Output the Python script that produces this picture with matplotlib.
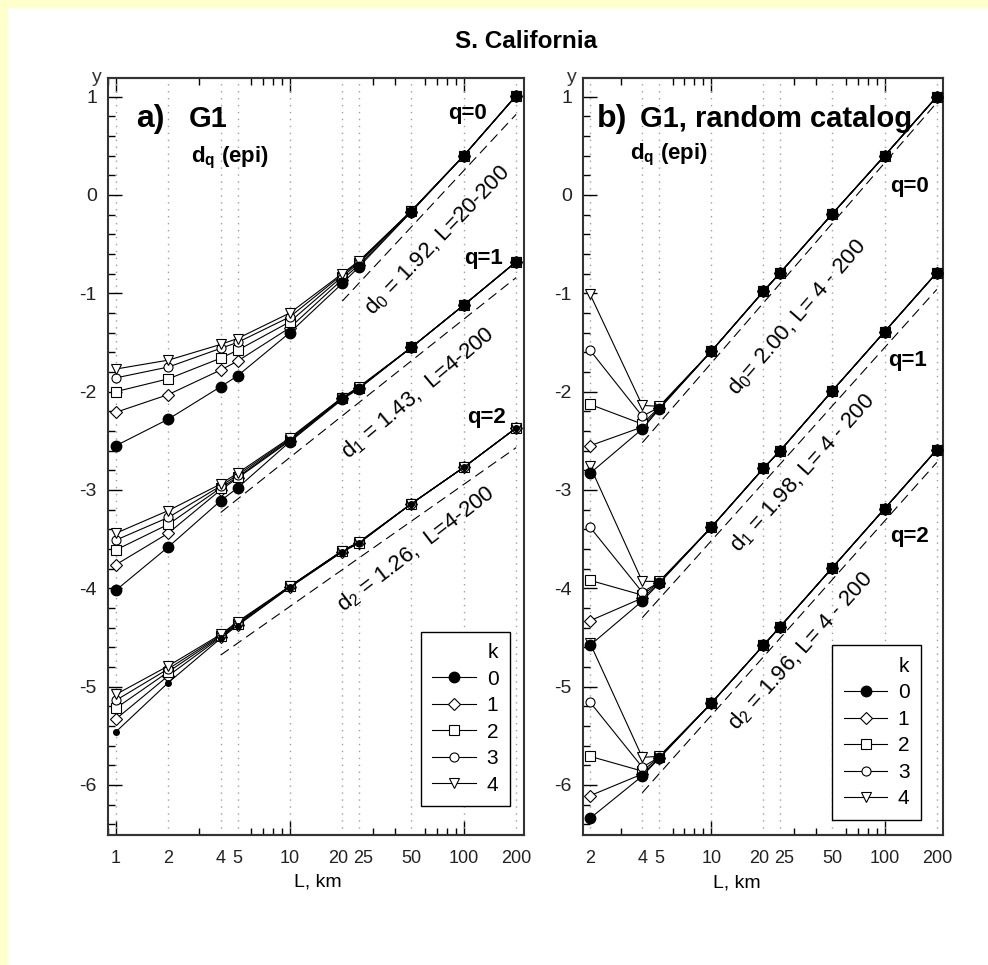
import numpy as np
import matplotlib
matplotlib.use('Agg')
import matplotlib.pyplot as plt
import matplotlib.transforms as mtransforms
from matplotlib.lines import Line2D
from matplotlib.patches import Rectangle
from matplotlib.ticker import FixedLocator, LogLocator, MultipleLocator, NullFormatter

plt.rcParams['font.family'] = ['Liberation Sans', 'DejaVu Sans']
plt.rcParams['axes.unicode_minus'] = False
plt.rcParams['mathtext.fontset'] = 'custom'
plt.rcParams['mathtext.rm'] = 'Liberation Sans'
plt.rcParams['mathtext.bf'] = 'Liberation Sans:bold'
plt.rcParams['mathtext.default'] = 'regular'

##################################################
#############  DATA ##########
##################################################

# panel a) G1
xa = [1, 2, 4, 5, 10, 20, 25, 50, 100, 200]
a_q0 = [[-2.55, -2.28, -1.95, -1.84, -1.40, -0.90, -0.73, -0.17, 0.40, 1.01],
        [-2.21, -2.03, -1.78, -1.69, -1.35, -0.86, -0.71, -0.17, 0.40, 1.01],
        [-2.00, -1.87, -1.66, -1.58, -1.29, -0.83, -0.69, -0.16, 0.40, 1.01],
        [-1.86, -1.75, -1.56, -1.50, -1.24, -0.81, -0.68, -0.16, 0.40, 1.01],
        [-1.77, -1.68, -1.52, -1.46, -1.20, -0.80, -0.67, -0.16, 0.40, 1.01]]
a_q1 = [[-4.02, -3.58, -3.11, -2.98, -2.51, -2.08, -1.97, -1.55, -1.12, -0.68],
        [-3.76, -3.44, -3.00, -2.88, -2.50, -2.07, -1.96, -1.55, -1.12, -0.68],
        [-3.61, -3.35, -2.98, -2.87, -2.49, -2.07, -1.96, -1.55, -1.12, -0.68],
        [-3.51, -3.28, -2.96, -2.85, -2.48, -2.06, -1.96, -1.55, -1.12, -0.68],
        [-3.44, -3.21, -2.94, -2.83, -2.47, -2.06, -1.95, -1.55, -1.12, -0.68]]
a_q2 = [[-5.46, -4.96, -4.51, -4.38, -3.99, -3.63, -3.54, -3.14, -2.77, -2.37],
        [-5.33, -4.89, -4.50, -4.37, -3.99, -3.63, -3.54, -3.14, -2.77, -2.37],
        [-5.22, -4.85, -4.49, -4.36, -3.98, -3.62, -3.54, -3.14, -2.77, -2.37],
        [-5.14, -4.82, -4.48, -4.35, -3.98, -3.62, -3.53, -3.14, -2.77, -2.37],
        [-5.08, -4.79, -4.47, -4.34, -3.98, -3.62, -3.53, -3.14, -2.77, -2.37]]
fit_a_x = [[20, 200], [4, 200], [4, 200]]
fit_a_y = [[-1.08, 0.82], [-3.23, -0.84], [-4.68, -2.57]]
fit_a_txt = ['d$_0$ = 1.92, L=20-200', 'd$_1$ = 1.43,  L=4-200', 'd$_2$ = 1.26,  L=4-200']

# panel b) G1, random catalog
xb = [2, 4, 5, 10, 20, 25, 50, 100, 200]
b_q0 = [[-2.83, -2.38, -2.18, -1.59, -0.98, -0.79, -0.19, 0.40, 1.00],
        [-2.55, -2.36, -2.17, -1.59, -0.98, -0.79, -0.19, 0.40, 1.00],
        [-2.13, -2.33, -2.16, -1.59, -0.98, -0.79, -0.19, 0.40, 1.00],
        [-1.58, -2.25, -2.16, -1.59, -0.98, -0.79, -0.19, 0.40, 1.00],
        [-1.01, -2.14, -2.15, -1.59, -0.98, -0.79, -0.19, 0.40, 1.00]]
b_q1 = [[-4.58, -4.13, -3.95, -3.38, -2.78, -2.60, -1.99, -1.39, -0.79],
        [-4.33, -4.10, -3.95, -3.38, -2.78, -2.60, -1.99, -1.39, -0.79],
        [-3.92, -4.07, -3.94, -3.38, -2.78, -2.60, -1.99, -1.39, -0.79],
        [-3.38, -4.04, -3.94, -3.38, -2.78, -2.60, -1.99, -1.39, -0.79],
        [-2.76, -3.93, -3.93, -3.38, -2.78, -2.60, -1.99, -1.39, -0.79]]
b_q2 = [[-6.34, -5.91, -5.73, -5.17, -4.58, -4.39, -3.79, -3.19, -2.59],
        [-6.11, -5.89, -5.73, -5.17, -4.58, -4.39, -3.79, -3.19, -2.59],
        [-5.71, -5.86, -5.72, -5.17, -4.58, -4.39, -3.79, -3.19, -2.59],
        [-5.16, -5.82, -5.72, -5.17, -4.58, -4.39, -3.79, -3.19, -2.59],
        [-4.56, -5.72, -5.71, -5.17, -4.58, -4.39, -3.79, -3.19, -2.59]]
fit_b_x = [[4, 200], [4, 200], [4, 200]]
fit_b_y = [[-2.52, 0.94], [-4.30, -0.96], [-6.08, -2.72]]
fit_b_txt = ['d$_0$= 2.00, L= 4 - 200', 'd$_1$ = 1.98, L= 4 - 200', 'd$_2$ = 1.96, L= 4 - 200']

k_labels = ['0', '1', '2', '3', '4']
xlabels_a = [1, 2, 4, 5, 10, 20, 25, 50, 100, 200]
xlabels_b = [2, 4, 5, 10, 20, 25, 50, 100, 200]

# marker styles per k
MK = [dict(marker='o', ms=7.5, mfc='black', mec='black'),
      dict(marker='D', ms=6.5, mfc='white', mec='black', mew=0.8),
      dict(marker='s', ms=6.5, mfc='white', mec='black', mew=0.8),
      dict(marker='o', ms=6.5, mfc='white', mec='black', mew=0.8),
      dict(marker='v', ms=7.5, mfc='white', mec='black', mew=0.8)]

W, H = 988, 965
fig = plt.figure(figsize=(W / 100, H / 100), dpi=100)
fig.patch.set_facecolor('#FFFFCC')
fig.add_artist(Rectangle((8 / W, 0), 1, 1 - 8 / H, transform=fig.transFigure,
                         facecolor='white', edgecolor='none', zorder=-10))

ax1 = fig.add_axes([108 / W, 1 - 835 / H, 416 / W, 757 / H])
ax2 = fig.add_axes([583 / W, 1 - 835 / H, 360 / W, 757 / H])


def style_axes(ax, xlim, xlab):
    ax.set_xscale('log')
    ax.set_xlim(*xlim)
    ax.set_ylim(-6.51, 1.19)
    ax.xaxis.set_major_locator(FixedLocator(xlab))
    ax.set_xticklabels([str(v) for v in xlab])
    ax.xaxis.set_minor_locator(LogLocator(base=10, subs=np.arange(1, 10)))
    ax.xaxis.set_minor_formatter(NullFormatter())
    ax.tick_params(axis='x', which='major', length=0, pad=11, labelsize=13,
                   labelcolor='#222222', top=True)
    ax.tick_params(axis='x', which='minor', direction='in', length=5, width=1,
                   top=True, bottom=True)
    ax.yaxis.set_major_locator(MultipleLocator(1))
    ax.yaxis.set_minor_locator(MultipleLocator(0.2))
    ax.tick_params(axis='y', which='major', direction='in', length=10, width=1,
                   pad=8, labelsize=14, labelcolor='#222222')
    ax.tick_params(axis='y', which='minor', direction='in', length=5, width=1)
    ax.grid(True, axis='x', which='major', color='#9a9ab8',
            linestyle=(0, (1, 4)), lw=1)
    for s in ax.spines.values():
        s.set_linewidth(1.5)
        s.set_color('#333333')
    # nudge the crowded 20 / 25 labels apart
    for lab, v in zip(ax.get_xticklabels(), xlab):
        if v in (20, 25):
            dx = -4 if v == 20 else 4
            lab.set_transform(lab.get_transform() +
                              mtransforms.ScaledTranslation(dx / 100, 0, fig.dpi_scale_trans))
    # longer decade ticks
    for loc in ['bottom', 'top']:
        sec = ax.secondary_xaxis(loc)
        sec.xaxis.set_major_locator(FixedLocator([1, 10, 100]))
        sec.xaxis.set_minor_locator(FixedLocator([]))
        sec.xaxis.set_major_formatter(NullFormatter())
        sec.tick_params(direction='in', length=10, width=1)
        sec.spines[loc].set_linewidth(1.5)
        sec.spines[loc].set_color('#333333')


def draw_series(ax, x, groups, small_k0=None):
    for qi, grp in enumerate(groups):
        order = [1, 2, 3, 4, 0]
        for k in order:
            st = dict(MK[k])
            if small_k0 is not None and qi == small_k0 and k == 0:
                st['ms'] = 4
            ax.plot(x, grp[k], color='black', lw=0.8, zorder=3 + (k == 0), **st)


style_axes(ax1, (0.9, 222), xlabels_a)
style_axes(ax2, (1.82, 217), xlabels_b)

draw_series(ax1, xa, [a_q0, a_q1, a_q2], small_k0=2)
draw_series(ax2, xb, [b_q0, b_q1, b_q2])

for ax, fx, fy in [(ax1, fit_a_x, fit_a_y), (ax2, fit_b_x, fit_b_y)]:
    for i in range(3):
        ax.plot(fx[i], fy[i], color='black', lw=0.8, linestyle=(0, (9, 5)), zorder=2)

# text panel a
ax1.text(0.067, 0.935, 'a)', transform=ax1.transAxes, fontsize=23, fontweight='bold')
ax1.text(0.195, 0.935, 'G1', transform=ax1.transAxes, fontsize=21, fontweight='bold')
ax1.text(0.2, 0.889, r'$\mathbf{d_q}$ (epi)', transform=ax1.transAxes, fontsize=16,
         fontweight='bold')
ax1.text(0.817, 0.946, 'q=0', transform=ax1.transAxes, fontsize=16, fontweight='bold')
ax1.text(0.856, 0.754, 'q=1', transform=ax1.transAxes, fontsize=16, fontweight='bold')
ax1.text(0.863, 0.544, 'q=2', transform=ax1.transAxes, fontsize=16, fontweight='bold')
for (tx, ty, rot), s in zip([(0.791, 0.786, 46), (0.745, 0.584, 40), (0.740, 0.378, 37.5)],
                            fit_a_txt):
    ax1.text(tx, ty, s, transform=ax1.transAxes, fontsize=16, rotation=rot,
             ha='center', va='center', rotation_mode='anchor')

# text panel b
ax2.text(0.039, 0.935, 'b)', transform=ax2.transAxes, fontsize=23, fontweight='bold')
ax2.text(0.158, 0.935, 'G1, random catalog', transform=ax2.transAxes, fontsize=21,
         fontweight='bold')
ax2.text(0.131, 0.892, r'$\mathbf{d_q}$ (epi)', transform=ax2.transAxes, fontsize=16,
         fontweight='bold')
ax2.text(0.853, 0.849, 'q=0', transform=ax2.transAxes, fontsize=16, fontweight='bold')
ax2.text(0.847, 0.620, 'q=1', transform=ax2.transAxes, fontsize=16, fontweight='bold')
ax2.text(0.853, 0.387, 'q=2', transform=ax2.transAxes, fontsize=16, fontweight='bold')
for (tx, ty, rot), s in zip([(0.594, 0.684, 49), (0.611, 0.478, 48), (0.606, 0.243, 48)],
                            fit_b_txt):
    ax2.text(tx, ty, s, transform=ax2.transAxes, fontsize=16, rotation=rot,
             ha='center', va='center', rotation_mode='anchor')

# legends
handles = [Line2D([], [], color='black', lw=0.8, **MK[k]) for k in range(5)]
for ax, anchor in [(ax1, (0.966, 0.038)), (ax2, (0.939, 0.02))]:
    leg = ax.legend(handles, k_labels, title='k', loc='lower right',
                    bbox_to_anchor=anchor, borderaxespad=0, fontsize=15,
                    title_fontsize=15, alignment='right', fancybox=False,
                    framealpha=1, edgecolor='black', handlelength=2.1,
                    handletextpad=0.5, labelspacing=0.36, borderpad=0.55)
    leg.get_frame().set_linewidth(1)
    leg.set_zorder(10)

# figure texts
fig.text(526 / W, 1 - 42 / H, 'S. California', fontsize=17.5, fontweight='bold',
         ha='center', va='center', family=['Liberation Sans Narrow', 'Liberation Sans'])
fig.text(97 / W, 1 - 77 / H, 'y', fontsize=14, ha='center', va='center', color='#333333')
fig.text(572 / W, 1 - 77 / H, 'y', fontsize=14, ha='center', va='center', color='#333333')
fig.text(318 / W, 1 - 882 / H, 'L, km', fontsize=14, ha='center', va='center')
fig.text(737 / W, 1 - 883 / H, 'L, km', fontsize=14, ha='center', va='center')

fig.savefig('out.png', dpi=100, facecolor=fig.get_facecolor())
